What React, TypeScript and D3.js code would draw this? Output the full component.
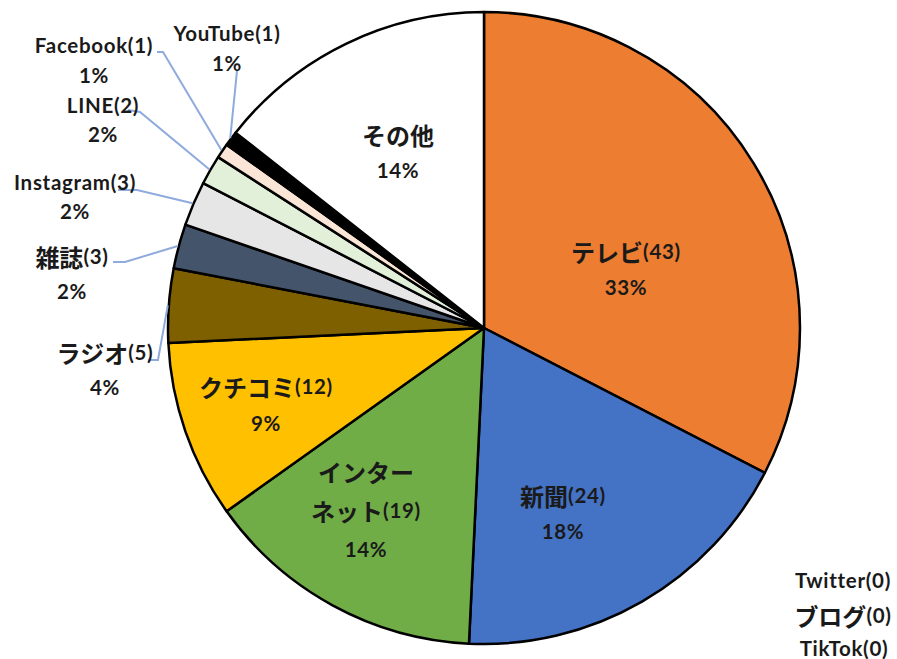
import { useEffect, useRef } from 'react';
import { select, pie, arc } from 'd3';

// data
const categories = ['テレビ', '新聞', 'インターネット', 'クチコミ', 'ラジオ', '雑誌', 'Instagram', 'LINE', 'Facebook', 'YouTube', 'Twitter', 'ブログ', 'TikTok', 'その他'];
const counts = [43, 24, 19, 12, 5, 3, 3, 2, 1, 1, 0, 0, 0, 19];
const colors = ['#ED7D31', '#4472C4', '#70AD47', '#FFC000', '#7F6000', '#44546A', '#E7E6E6', '#E2F0D9', '#FBE5D6', '#000000', '#000000', '#000000', '#000000', '#FFFFFF'];

// label layout: text rows, centre x, first row centre y, row gap, leader start points
const labelLayout: Record<string, { rows: string[]; x: number; y: number; gap: number; leader?: [number, number][] }> = {
  テレビ: { rows: ['テレビ(43)', '33%'], x: 626, y: 251, gap: 36 },
  新聞: { rows: ['新聞(24)', '18%'], x: 563, y: 495, gap: 36 },
  インターネット: { rows: ['インター', 'ネット(19)', '14%'], x: 366, y: 471, gap: 39 },
  クチコミ: { rows: ['クチコミ(12)', '9%'], x: 266, y: 386, gap: 37 },
  ラジオ: { rows: ['ラジオ(5)', '4%'], x: 105, y: 352, gap: 35, leader: [[148, 360], [158, 360]] },
  雑誌: { rows: ['雑誌(3)', '2%'], x: 72, y: 256, gap: 35, leader: [[113, 262], [125, 262]] },
  Instagram: { rows: ['Instagram(3)', '2%'], x: 75, y: 182, gap: 29, leader: [[118, 190], [137, 190]] },
  LINE: { rows: ['LINE(2)', '2%'], x: 103, y: 105, gap: 29, leader: [[128, 110], [140, 112]] },
  Facebook: { rows: ['Facebook(1)', '1%'], x: 94, y: 45, gap: 30, leader: [[157, 52], [163, 52]] },
  YouTube: { rows: ['YouTube(1)', '1%'], x: 227, y: 33, gap: 30, leader: [[237, 71]] },
  Twitter: { rows: ['Twitter(0)'], x: 843, y: 580, gap: 0 },
  ブログ: { rows: ['ブログ(0)'], x: 843, y: 615, gap: 0 },
  TikTok: { rows: ['TikTok(0)'], x: 844, y: 648, gap: 0 },
  その他: { rows: ['その他', '14%'], x: 398, y: 134, gap: 36 },
};

const W = 897;
const H = 659;
const cx = 484;
const cy = 328;
const R = 316;

const isCJK = (ch: string) => /[\u3000-\u30ff\u4e00-\u9fff]/.test(ch);

// split text into runs so Japanese glyphs can be set a little larger
const runs = (s: string) => {
  const out: { t: string; cjk: boolean }[] = [];
  for (const ch of s) {
    const c = isCJK(ch);
    if (out.length && out[out.length - 1].cjk === c) out[out.length - 1].t += ch;
    else out.push({ t: ch, cjk: c });
  }
  return out;
};

const render = (node: SVGSVGElement) => {
  const svg = select(node);
  svg.selectAll('*').remove();

  const slices = pie<number>().sort(null).value((d) => d)(counts);
  const arcGen = arc<any>().innerRadius(0).outerRadius(R);
  const edge = arc<any>().innerRadius(R + 1).outerRadius(R + 1);

  const g = svg.append('g').attr('transform', `translate(${cx},${cy})`);

  g.selectAll('path')
    .data(slices.filter((d) => d.value > 0))
    .enter()
    .append('path')
    .attr('d', arcGen)
    .attr('fill', (d) => colors[d.index])
    .attr('stroke', '#000')
    .attr('stroke-width', 2.5)
    .attr('stroke-linejoin', 'round');

  // leader lines
  slices.forEach((s) => {
    const lay = labelLayout[categories[s.index]];
    if (!lay || !lay.leader) return;
    const [ex, ey] = edge.centroid(s);
    const pts = [...lay.leader, [ex + cx, ey + cy]];
    svg
      .append('polyline')
      .attr('points', pts.map((p) => p.join(',')).join(' '))
      .attr('fill', 'none')
      .attr('stroke', '#8FAADC')
      .attr('stroke-width', 2);
  });

  // labels
  categories.forEach((name) => {
    const lay = labelLayout[name];
    lay.rows.forEach((row, i) => {
      const t = svg
        .append('text')
        .attr('x', lay.x)
        .attr('y', lay.y + i * lay.gap)
        .attr('text-anchor', 'middle')
        .attr('dominant-baseline', 'central')
        .attr('font-family', "Lato, 'Noto Sans CJK JP', sans-serif")
        .attr('font-weight', 'bold')
        .attr('fill', '#1a1a1a');
      runs(row).forEach((r) => {
        t.append('tspan')
          .attr('font-family', r.cjk ? "'Noto Sans CJK JP', sans-serif" : "Lato, 'Noto Sans CJK JP', sans-serif")
          .attr('font-size', r.cjk ? 24 : 20.5)
          .attr('letter-spacing', r.cjk ? 0 : 0.7)
          .text(r.t);
      });
    });
  });
};

export default function App() {
  const ref = useRef<SVGSVGElement>(null);
  useEffect(() => {
    if (ref.current) render(ref.current);
  }, []);
  return (
    <svg
      ref={ref}
      width={W}
      height={H}
      style={{ position: 'absolute', left: 0, top: 0, background: '#fff' }}
    ></svg>
  );
}
